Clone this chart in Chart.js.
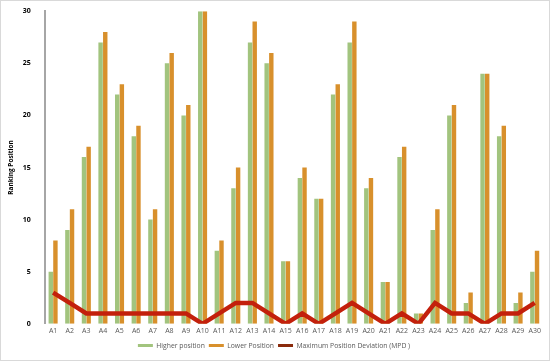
<!DOCTYPE html>
<html>
<head>
<meta charset="utf-8">
<script src="https://cdn.jsdelivr.net/npm/chart.js@4"></script>
<style>
  html, body { margin: 0; padding: 0; background: #fff; }
  .box { width: 550px; height: 361px; box-sizing: border-box; border: 1px solid #d9d9d9; position: relative; }
</style>
</head>
<body>
<div class="box"><canvas id="chart"></canvas></div>
<script>
const categories = ['A1','A2','A3','A4','A5','A6','A7','A8','A9','A10','A11','A12','A13','A14','A15',
  'A16','A17','A18','A19','A20','A21','A22','A23','A24','A25','A26','A27','A28','A29','A30'];
const higherPosition = [5, 9, 16, 27, 22, 18, 10, 25, 20, 30, 7, 13, 27, 25, 6,
  14, 12, 22, 27, 13, 4, 16, 1, 9, 20, 2, 24, 18, 2, 5];
const lowerPosition = [8, 11, 17, 28, 23, 19, 11, 26, 21, 30, 8, 15, 29, 26, 6,
  15, 12, 23, 29, 14, 4, 17, 1, 11, 21, 3, 24, 19, 3, 7];
const mpd = [3, 2, 1, 1, 1, 1, 1, 1, 1, 0, 1, 2, 2, 1, 0,
  1, 0, 1, 2, 1, 0, 1, 0, 2, 1, 1, 0, 1, 1, 2];

const legendOrder = ['Higher position', 'Lower Position', 'Maximum Position Deviation (MPD )'];

const ctx = document.getElementById('chart').getContext('2d');
new Chart(ctx, {
  type: 'bar',
  data: {
    labels: categories,
    datasets: [
      {
        type: 'line',
        label: 'Maximum Position Deviation (MPD )',
        data: mpd,
        borderColor: '#c3200c',
        backgroundColor: '#c3200c',
        borderWidth: 4.5,
        pointRadius: 0,
        tension: 0,
        order: 0,
      },
      {
        label: 'Higher position',
        data: higherPosition,
        backgroundColor: '#a2c47e',
        barPercentage: 0.95,
        categoryPercentage: 0.56,
        order: 1,
      },
      {
        label: 'Lower Position',
        data: lowerPosition,
        backgroundColor: '#d8902c',
        barPercentage: 0.95,
        categoryPercentage: 0.56,
        order: 1,
      },
    ],
  },
  options: {
    responsive: true,
    maintainAspectRatio: false,
    animation: false,
    layout: { padding: { top: 8, right: 6, left: 4, bottom: 1 } },
    plugins: {
      tooltip: { enabled: false },
      legend: {
        position: 'bottom',
        labels: {
          boxWidth: 15,
          boxHeight: 3,
          padding: 4,
          color: '#595959',
          font: { family: 'Open Sans', size: 6.8 },
          sort: (a, b) => legendOrder.indexOf(a.text) - legendOrder.indexOf(b.text),
          generateLabels: (chart) => {
            const items = Chart.defaults.plugins.legend.labels.generateLabels(chart);
            return items.map((it) => {
              const ds = chart.data.datasets[it.datasetIndex];
              it.fillStyle = ds.type === 'line' ? '#8a2a0c' : ds.backgroundColor;
              it.lineWidth = 0;
              it.strokeStyle = 'transparent';
              return it;
            });
          },
        },
      },
    },
    scales: {
      x: {
        grid: { display: false, drawTicks: false },
        border: { display: false },
        ticks: {
          color: '#595959',
          font: { family: 'Open Sans', size: 7 },
          maxRotation: 0,
          autoSkip: false,
          padding: 3,
        },
      },
      y: {
        min: 0,
        max: 30,
        grid: { display: false },
        border: { display: true, color: '#a6a6a6', width: 2 },
        ticks: {
          stepSize: 5,
          color: '#000',
          font: { family: 'Open Sans', size: 7, weight: 'bold' },
          padding: 6,
        },
        title: {
          display: true,
          text: 'Ranking Position',
          color: '#000',
          font: { family: 'Open Sans', size: 6.5, weight: 'bold' },
          padding: 2,
        },
      },
    },
  },
});
</script>
</body>
</html>
